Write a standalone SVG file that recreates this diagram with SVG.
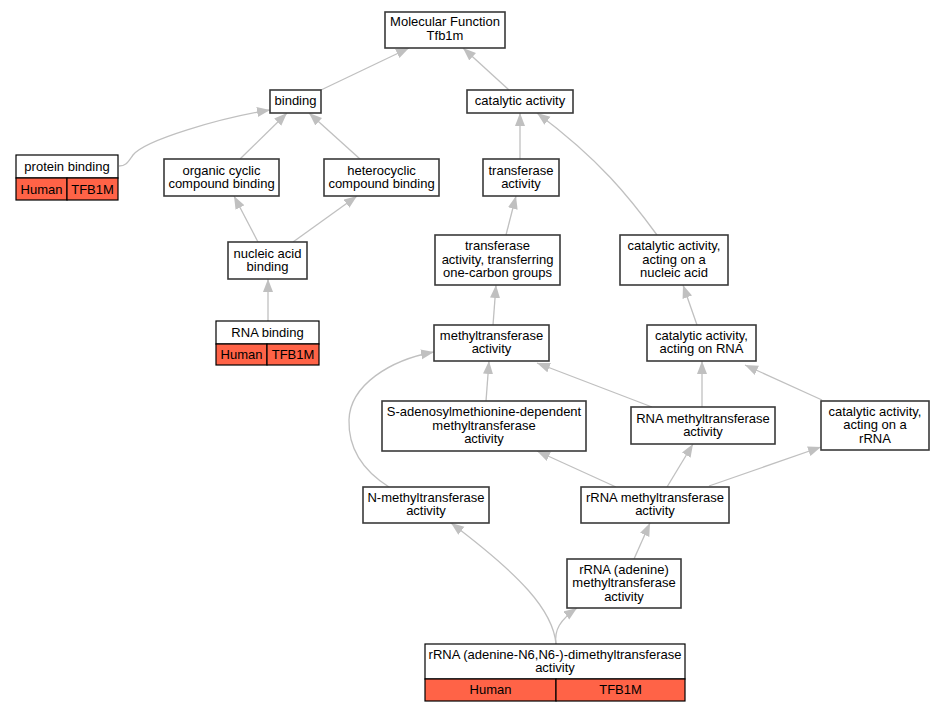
<svg xmlns="http://www.w3.org/2000/svg" width="944" height="712" viewBox="0 0 944 712">
<style>
.n rect{fill:#fff;stroke:#3a3a3a;stroke-width:1.6}
.t rect{stroke:#000;stroke-width:1.2}
.t rect.h{fill:#fff}
.t rect.c{fill:#ff6347}
text{font-family:"Liberation Sans",Arial,sans-serif;font-size:13px;fill:#000;text-anchor:middle}
.e path{fill:none;stroke:#c0c0c0;stroke-width:1.3;marker-end:url(#a)}
</style>
<defs>
<marker id="a" markerUnits="userSpaceOnUse" markerWidth="14" markerHeight="11" refX="13" refY="5" orient="auto">
<path d="M0,0 L13,5 L0,10 z" fill="#c0c0c0"/>
</marker>
</defs>
<rect width="944" height="712" fill="#fff"/>
<g class="e" id="edges">
<path d="M321,90 L409,48"/>
<path d="M509,90 L463,48"/>
<path d="M119,166 C126,166 128,162 133,155 C145,140 220,118 270,110"/>
<path d="M240,159 L287,113"/>
<path d="M360,159 L309,113"/>
<path d="M258,242 L234,196"/>
<path d="M293,242 L357,196"/>
<path d="M268,321 L268,279"/>
<path d="M520,159 L520,113"/>
<path d="M657,235 C630,198 600,160 537,113"/>
<path d="M506,235 L516,196"/>
<path d="M697,325 L683,285"/>
<path d="M493,325 L496,285"/>
<path d="M486,401 L489,361"/>
<path d="M652,407 L537,363"/>
<path d="M702,407 L702,361"/>
<path d="M822,400 L745,365"/>
<path d="M389,487 C370,475 348,455 349,420 C350,385 390,360 434,352"/>
<path d="M616,487 L537,451"/>
<path d="M667,487 L693,444"/>
<path d="M709,486 L821,447"/>
<path d="M634,559 L650,523"/>
<path d="M556,644 C554,630 560,620 577,608"/>
<path d="M556,644 C553,610 520,575 451,523"/>
</g>
<g class="n" id="mf"><rect x="385" y="12" width="120" height="36"/><text x="445" y="25.5">Molecular Function</text><text x="445" y="39.5">Tfb1m</text></g>
<g class="n" id="binding"><rect x="270" y="90" width="51" height="23"/><text x="295.5" y="105">binding</text></g>
<g class="n" id="catalytic"><rect x="467" y="90" width="106" height="23"/><text x="520" y="105">catalytic activity</text></g>
<g class="t" id="protein_binding"><rect class="h" x="16" y="155" width="102" height="23"/><rect class="c" x="16" y="178" width="51" height="22"/><rect class="c" x="67" y="178" width="51" height="22"/><text x="67" y="170.5">protein binding</text><text x="41.5" y="193.5">Human</text><text x="92.5" y="193.5">TFB1M</text></g>
<g class="n" id="organic"><rect x="164" y="159" width="115" height="37"/><text x="221.5" y="174.5">organic cyclic</text><text x="221.5" y="188">compound binding</text></g>
<g class="n" id="heterocyclic"><rect x="324" y="159" width="115" height="37"/><text x="381.5" y="174.5">heterocyclic</text><text x="381.5" y="188">compound binding</text></g>
<g class="n" id="transferase"><rect x="483" y="159" width="76" height="37"/><text x="521" y="174.5">transferase</text><text x="521" y="188">activity</text></g>
<g class="n" id="onecarbon"><rect x="435" y="235" width="125" height="50"/><text x="497.5" y="250">transferase</text><text x="497.5" y="263.5">activity, transferring</text><text x="497.5" y="277">one-carbon groups</text></g>
<g class="n" id="cat_nucleic"><rect x="620" y="235" width="108" height="50"/><text x="674" y="250">catalytic activity,</text><text x="674" y="263.5">acting on a</text><text x="674" y="277">nucleic acid</text></g>
<g class="n" id="nucleic"><rect x="228" y="242" width="79" height="37"/><text x="267.5" y="257.5">nucleic acid</text><text x="267.5" y="271">binding</text></g>
<g class="t" id="rna_binding"><rect class="h" x="216" y="321" width="103" height="23"/><rect class="c" x="216" y="344" width="51" height="21"/><rect class="c" x="267" y="344" width="52" height="21"/><text x="267.5" y="336.5">RNA binding</text><text x="241.5" y="358.5">Human</text><text x="293" y="358.5">TFB1M</text></g>
<g class="n" id="methyl"><rect x="434" y="325" width="115" height="36"/><text x="491.5" y="339.5">methyltransferase</text><text x="491.5" y="353">activity</text></g>
<g class="n" id="cat_rna"><rect x="647" y="325" width="109" height="36"/><text x="701.5" y="339.5">catalytic activity,</text><text x="701.5" y="353">acting on RNA</text></g>
<g class="n" id="sam"><rect x="382" y="401" width="204" height="50"/><text x="484" y="416">S-adenosylmethionine-dependent</text><text x="484" y="429.5">methyltransferase</text><text x="484" y="443">activity</text></g>
<g class="n" id="rna_methyl"><rect x="631" y="407" width="144" height="37"/><text x="703" y="422.5">RNA methyltransferase</text><text x="703" y="436">activity</text></g>
<g class="n" id="cat_rrna"><rect x="821" y="401" width="108" height="49"/><text x="875" y="415.5">catalytic activity,</text><text x="875" y="429">acting on a</text><text x="875" y="442.5">rRNA</text></g>
<g class="n" id="n_methyl"><rect x="363" y="487" width="126" height="36"/><text x="426" y="501.5">N-methyltransferase</text><text x="426" y="515">activity</text></g>
<g class="n" id="rrna_methyl"><rect x="581" y="487" width="148" height="36"/><text x="655" y="501.5">rRNA methyltransferase</text><text x="655" y="515">activity</text></g>
<g class="n" id="rrna_adenine"><rect x="567" y="559" width="114" height="49"/><text x="624" y="573.5">rRNA (adenine)</text><text x="624" y="587">methyltransferase</text><text x="624" y="600.5">activity</text></g>
<g class="t" id="dimethyl"><rect class="h" x="425" y="644" width="260" height="35"/><rect class="c" x="425" y="679" width="131" height="22"/><rect class="c" x="556" y="679" width="129" height="22"/><text x="555" y="658.5">rRNA (adenine-N6,N6-)-dimethyltransferase</text><text x="555" y="672">activity</text><text x="490.5" y="694">Human</text><text x="620.5" y="694">TFB1M</text></g>
</svg>
